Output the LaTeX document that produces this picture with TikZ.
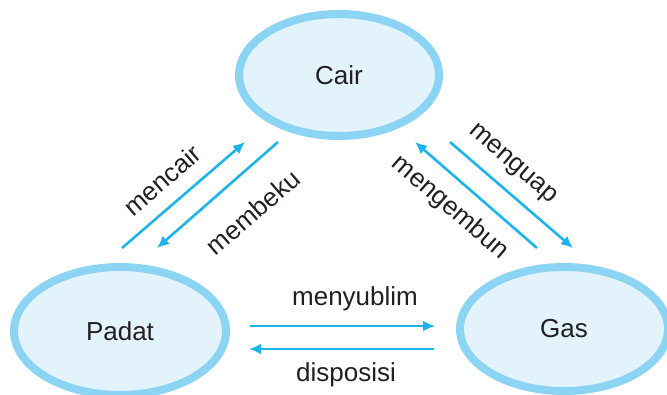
\documentclass[tikz,border=0pt]{standalone}
\usepackage{fontspec}
\setmainfont{Liberation Sans}
\usetikzlibrary{shapes.geometric,arrows.meta}
\definecolor{ringblue}{RGB}{140,212,244}
\definecolor{fillblue}{RGB}{226,243,252}
\definecolor{arrowblue}{RGB}{30,180,235}
\definecolor{txt}{RGB}{35,31,32}
\tikzset{
  state/.style={ellipse, draw=ringblue, line width=8pt, fill=fillblue, inner sep=0pt,
    font=\fontsize{26}{30}\selectfont, text=txt},
  flow/.style={draw=arrowblue, line width=2.6pt, -{Latex[length=12pt,width=11pt]}},
  lbl/.style={font=\fontsize{26}{30}\selectfont, text=txt, inner sep=0pt}
}
\begin{document}
\begin{tikzpicture}[x=1pt,y=-1pt]
\useasboundingbox (0,0) rectangle (667,394);
\node[state, minimum width=200pt, minimum height=122pt] (cair) at (339,75) {Cair};
\node[state, minimum width=212pt, minimum height=128pt] (padat) at (120,331) {Padat};
\node[state, minimum width=208pt, minimum height=124pt] (gas) at (564,329) {Gas};
% arrow end points
\coordinate (mcS) at (122,248); \coordinate (mcE) at (245,142);
\coordinate (mbS) at (278,142); \coordinate (mbE) at (157,248);
\coordinate (mgS) at (450,142); \coordinate (mgE) at (573,248);
\coordinate (meS) at (537,248); \coordinate (meE) at (415,142);
\coordinate (msS) at (250,326); \coordinate (msE) at (435,326);
\coordinate (dsS) at (434,349); \coordinate (dsE) at (249,349);
\draw[flow] (mcS) -- (mcE);
\draw[flow] (mbS) -- (mbE);
\draw[flow] (mgS) -- (mgE);
\draw[flow] (meS) -- (meE);
\draw[flow] (msS) -- (msE);
\draw[flow] (dsS) -- (dsE);
\node[lbl, rotate=40.8] (lmencair) at (162,180) {mencair};
\node[lbl, rotate=40.8] (lmembeku) at (253,212) {membeku};
\node[lbl, rotate=-40.8] (lmenguap) at (512,165) {menguap};
\node[lbl, rotate=-40.8] (lmengembun) at (450,208) {mengembun};
\node[lbl] (lmenyublim) at (355,299) {menyublim};
\node[lbl] (ldisposisi) at (346,375) {disposisi};
\end{tikzpicture}
\end{document}
